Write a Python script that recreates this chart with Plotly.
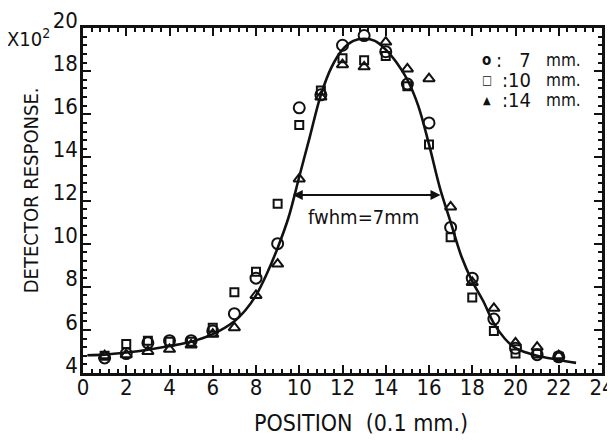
import plotly.graph_objects as go

# ---- data ----
pos = [1, 2, 3, 4, 5, 6, 7, 8, 9, 10, 11, 12, 13, 14, 15, 16, 17, 18, 19, 20, 21, 22]
resp_7mm = [4.7, 4.9, 5.4, 5.5, 5.5, 5.95, 6.75, 8.4, 10.0, 16.3, 16.9, 19.2, 19.65,
            18.9, 17.4, 15.6, 10.75, 8.4, 6.5, 5.15, 4.85, 4.75]
resp_10mm = [4.8, 5.35, 5.5, 5.45, 5.45, 6.1, 7.75, 8.7, 11.85, 15.5, 17.1, 18.6, 18.5,
             18.7, 17.3, 14.6, 10.3, 7.5, 5.95, 4.9, 4.9, 4.75]
resp_14mm = [4.8, 4.85, 5.0, 5.1, 5.3, 5.8, 6.1, 7.6, 9.05, 13.0, 16.8, 18.3, 18.2,
             19.35, 18.1, 17.65, 11.7, 8.2, 7.0, 5.4, 5.2, 4.8]

fit_x = [0.2, 1, 2, 3, 4, 5, 6, 7, 7.5, 8, 8.5, 9, 9.5, 10, 10.5, 11, 11.5, 12, 12.5,
         13, 13.5, 14, 14.5, 15, 15.5, 16, 16.5, 17, 17.5, 18, 18.5, 19, 19.5, 20,
         20.5, 21, 21.5, 22, 22.8]
fit_y = [4.82, 4.85, 4.95, 5.08, 5.25, 5.45, 5.8, 6.4, 6.9, 7.6, 8.6, 9.8, 11.2, 13.1,
         15.0, 16.9, 18.2, 19.0, 19.4, 19.5, 19.4, 19.0, 18.4, 17.6, 16.4, 14.6, 12.6,
         11.0, 9.4, 8.25, 7.35, 6.3, 5.6, 5.15, 4.95, 4.8, 4.7, 4.6, 4.47]

x_ticks = [0, 2, 4, 6, 8, 10, 12, 14, 16, 18, 20, 22, 24]
y_ticks = [4, 6, 8, 10, 12, 14, 16, 18, 20]

fwhm_left, fwhm_right, fwhm_level = 9.7, 16.6, 12.25

FONT = "DejaVu Sans Condensed, Liberation Sans Narrow, Arial Narrow, sans-serif"
INK = "#111111"

fig = go.Figure()
fig.add_trace(go.Scatter(x=fit_x, y=fit_y, mode="lines", line=dict(color=INK, width=2.6, shape="spline"),
                         showlegend=False))
fig.add_trace(go.Scatter(x=pos, y=resp_7mm, mode="markers", name="7 mm",
                         marker=dict(symbol="circle-open", size=11, color=INK, line=dict(width=2, color=INK)),
                         showlegend=False))
fig.add_trace(go.Scatter(x=pos, y=resp_10mm, mode="markers", name="10 mm",
                         marker=dict(symbol="square-open", size=8, color=INK, line=dict(width=2, color=INK)),
                         showlegend=False))
fig.add_trace(go.Scatter(x=pos, y=resp_14mm, mode="markers", name="14 mm",
                         marker=dict(symbol="triangle-up-open", size=10, color=INK, line=dict(width=2, color=INK)),
                         showlegend=False))

axis_common = dict(showgrid=False, zeroline=False, showline=True, linecolor=INK, linewidth=2.5,
                   mirror="allticks", ticks="inside", ticklen=8, tickwidth=2, tickcolor=INK,
                   automargin=False, ticklabeloverflow="allow",
                   tickfont=dict(family=FONT, size=22, color=INK))

fig.update_xaxes(range=[0, 24], tickvals=x_ticks, ticktext=[str(v) for v in x_ticks],
                 minor=dict(dtick=0.4, ticks="inside", ticklen=4, tickwidth=1.5, tickcolor=INK),
                 ticklabelstandoff=-7, **axis_common)
fig.update_yaxes(range=[4, 20], tickvals=y_ticks, ticktext=[str(v) for v in y_ticks],
                 minor=dict(dtick=0.4, ticks="inside", ticklen=4, tickwidth=1.5, tickcolor=INK),
                 ticklabelshift=-8, ticklabelstandoff=-2, **axis_common)

# axis titles
fig.add_annotation(x=0.536, y=-0.145, xref="paper", yref="paper", xanchor="center", yanchor="middle",
                   text="POSITION&nbsp;&nbsp;(0.1 mm.)", showarrow=False,
                   font=dict(family=FONT, size=23, color=INK))
fig.add_annotation(x=-0.1, y=0.53, xref="paper", yref="paper", xanchor="center", yanchor="middle",
                   text="DETECTOR RESPONSE.", showarrow=False, textangle=-90,
                   font=dict(family=FONT, size=20, color=INK))

# fwhm arrow
fig.add_annotation(x=fwhm_left, y=fwhm_level, ax=fwhm_right, ay=fwhm_level, xref="x", yref="y",
                   axref="x", ayref="y", text="", showarrow=True, arrowhead=2, arrowside="end+start",
                   arrowsize=1, arrowwidth=2, arrowcolor=INK)
fig.add_annotation(x=(fwhm_left + fwhm_right) / 2 - 0.2, y=fwhm_level - 1.02, xref="x", yref="y",
                   text="fwhm=7mm", showarrow=False, font=dict(family=FONT, size=20, color=INK))

# scale factor label
fig.add_annotation(x=-0.15, y=0.97, xref="paper", yref="paper", xanchor="left", yanchor="middle",
                   text="X10<sup>2</sup>", showarrow=False, font=dict(family=FONT, size=20, color=INK))

# legend as text
legend_rows = [("o", ":&nbsp;&nbsp;&nbsp;7", 15), ("\u25a1", ":10", 12), ("\u25b2", ":14", 11)]
row_y = [0.907, 0.849, 0.791]
for (sym, num, ssize), yy in zip(legend_rows, row_y):
    fig.add_annotation(x=0.778, y=yy, xref="paper", yref="paper", xanchor="center", yanchor="middle",
                       text="<b>%s</b>" % sym, showarrow=False, font=dict(family=FONT, size=ssize, color=INK))
    fig.add_annotation(x=0.868, y=yy, xref="paper", yref="paper", xanchor="right", yanchor="middle",
                       text=num, showarrow=False, font=dict(family=FONT, size=20, color=INK))
    fig.add_annotation(x=0.888, y=yy, xref="paper", yref="paper", xanchor="left", yanchor="middle",
                       text="mm.", showarrow=False, font=dict(family=FONT, size=17, color=INK))

# page body has an 8 px margin; size and margins compensate so the plot box lands where the reference has it
fig.update_layout(width=607, height=434, margin=dict(l=75, r=13, t=20, b=69),
                  paper_bgcolor="white", plot_bgcolor="white", font=dict(family=FONT, color=INK))

fig.write_html("out.html")
